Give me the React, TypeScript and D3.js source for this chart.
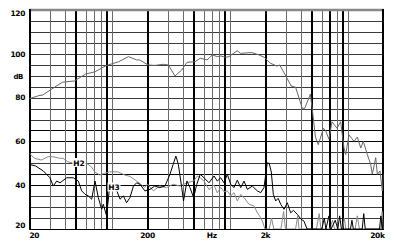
import React from "react";
import * as d3 from "d3";

// ---- data ----
const MAIN_F = [20, 24, 26, 30, 38, 48, 60, 72, 89, 113, 138, 162, 172, 202, 230, 272, 300, 342, 390, 432, 506, 560, 605, 640, 710, 780, 835, 920, 980, 1150, 1230, 1450, 1540, 1760, 1950, 2200, 2500, 2640, 3000, 3300, 3600, 4100, 4300, 4800, 5000, 5300, 5600, 5870, 6200, 6470, 6900, 7320, 8070, 8670, 9250, 9560, 10200, 11260, 12000, 12830, 13500, 14580, 15580, 16080, 17180, 17740, 18680, 19540, 20000];
const MAIN_DB = [79.5, 80.9, 81.2, 83.5, 87, 87.6, 90.8, 91.8, 94.6, 96.3, 98.7, 97.2, 97.2, 94.9, 94.7, 95.2, 94.9, 89.9, 92.6, 96.1, 96.4, 98, 97.5, 97.2, 99.5, 98.7, 99, 98.4, 98.7, 101.4, 100.2, 100.5, 100.5, 99.5, 98.4, 95.7, 94.4, 94.9, 89.5, 85.3, 84.7, 75.1, 75.1, 81.6, 74, 62, 58.5, 62, 66, 64.8, 61, 69, 66, 69, 57, 54, 63, 60, 62, 57, 60, 54, 49.5, 45, 52.6, 45, 46.5, 37.4, 45];

const H2_F = [20, 22, 25.2, 28.6, 31.6, 36, 38.4, 42.3, 48, 55, 60.7, 67, 71.3, 78.6, 86.5, 95, 112, 128, 142, 157, 171, 189, 200, 224, 254, 290, 330, 377, 432, 492, 530, 560, 600, 664, 733, 781, 834, 890, 950, 1014, 1082, 1154, 1233, 1316, 1450, 1598, 1706, 1822, 1880, 1980, 2150, 2250, 2350, 2700, 2850, 2950, 3600, 3750, 3850, 5400, 5700, 5900, 7000, 7400, 7700, 9000, 9300, 9600, 11500, 12000, 12500, 19000, 19500, 20000];
const H2_DB = [54.6, 52.3, 51.5, 53, 53, 52.3, 52.3, 50.7, 50, 50, 50, 48.4, 46.1, 44.7, 45.4, 46.1, 46.1, 44.7, 44, 42.4, 40.9, 39, 40.5, 37.4, 39.6, 38.9, 40.4, 39.6, 41.1, 41.9, 44.2, 43.4, 42, 38, 40, 36.5, 39, 37, 37.4, 35.1, 36.6, 32.8, 35.8, 34.3, 31.3, 30.5, 27.4, 25.2, 23.6, 20, 20, 25, 20, 20, 28, 20, 20, 26, 20, 20, 27, 20, 20, 24, 20, 20, 25, 20, 20, 26, 20, 20, 28, 20];

const H3_F = [20, 22.5, 26.2, 29.8, 31.8, 34, 36.3, 41.3, 47, 51.8, 55.4, 59, 63, 67.3, 71.8, 76.6, 81.8, 84.4, 90, 96, 103, 110, 117, 125, 133, 142, 152, 162, 173, 190, 210, 230, 255, 281, 310, 330, 348, 365, 390, 404, 432, 458, 492, 523, 560, 602, 664, 733, 781, 834, 890, 950, 1014, 1082, 1154, 1233, 1316, 1403, 1547, 1706, 1822, 1942, 2070, 2150, 2240, 2330, 2440, 2560, 2690, 2870, 3060, 3270, 3450, 3720, 4000, 4240, 4500, 6000, 6300, 6500, 6900, 7200, 7800, 8200, 8500, 8800, 10500, 10800, 11100, 13200, 13600, 14000, 18500, 19000, 19500];
const H3_DB = [49.5, 48.8, 46.5, 43.4, 39.6, 41.9, 41.1, 43.4, 43.4, 41.9, 37.4, 35.9, 35.1, 33.6, 41.9, 34.3, 29, 31.3, 26, 40.4, 38.1, 37.4, 33.6, 35.1, 32, 34.3, 39.6, 41.1, 40.4, 37.4, 38.1, 39.6, 38.9, 39.6, 45, 49.5, 53.3, 49.5, 38.9, 32.8, 41.9, 38.9, 34.3, 40.4, 45, 43.4, 41.1, 44.2, 41.9, 43.4, 41.1, 45, 40.4, 38.9, 42.3, 38.9, 41.9, 38.1, 39.6, 37.4, 36.6, 38.9, 50.2, 50, 46, 35.8, 32.8, 34, 31.3, 29, 32, 27.4, 28.5, 26.7, 24.5, 23.6, 20, 20, 25, 20, 26, 20, 24, 20, 26, 20, 20, 24, 20, 20, 27, 20, 20, 26, 20];

const THIN_F = [30, 40, 60, 70, 80, 100, 300, 400, 600, 700, 800, 1000, 3000, 4000, 6000, 8000, 10000];
const THICK_F = [50, 90, 200, 500, 900, 2000, 5000, 7000, 9000];
const H_LINES = [25, 30, 35, 40, 45, 50, 55, 60, 65, 70, 75, 80, 85, 90, 95, 100, 105, 110, 115];
const H_THICK = [40, 45, 60, 65];
const Y_LABELS = ["120", "100", "80", "60", "40", "20"];
const Y_LABEL_VALUES = [120, 100, 80, 60, 40, 20];
const X_LABELS = ["20", "200", "Hz", "2k", "20k"];
const X_LABEL_F = [20, 200, 700, 2000, 20000];

const W = 394;
const H = 242;

export default function App() {
  const x = d3.scaleLog().domain([20, 20000]).range([29.5, 383.5]);
  const y = d3.scaleLinear().domain([20, 120]).range([229, 10]);
  const line = d3
    .line<[number, number]>()
    .x((d) => x(d[0]))
    .y((d) => y(Math.max(20, d[1])));
  const mk = (f: number[], v: number[]) => line(f.map((ff, i) => [ff, v[i]] as [number, number])) || "";
  const font = "'DejaVu Sans', Verdana, sans-serif";
  const fs = 7.5;
  const anchors = ["start", "middle", "middle", "middle", "end"];
  return (
    <svg width={W} height={H} style={{ position: "absolute", left: 0, top: 0, background: "#fff" }}>
      <defs>
        <clipPath id="plot">
          <rect x={29.5} y={10} width={354} height={219} />
        </clipPath>
      </defs>
      <rect x={0} y={0} width={W} height={H} fill="#fff" />
      {H_LINES.map((v) => (
        <line
          key={"h" + v}
          x1={29.5}
          x2={383.5}
          y1={Math.round(y(v)) + 0.5}
          y2={Math.round(y(v)) + 0.5}
          stroke={H_THICK.includes(v) ? "#000" : "#3a3a3a"}
          strokeWidth={H_THICK.includes(v) ? 1.2 : 1}
        />
      ))}
      {THIN_F.map((f) => (
        <line key={"t" + f} x1={Math.round(x(f)) + 0.5} x2={Math.round(x(f)) + 0.5} y1={10} y2={229} stroke="#6a6a6a" strokeWidth={1} />
      ))}
      {THICK_F.map((f) => (
        <line key={"k" + f} x1={Math.round(x(f))} x2={Math.round(x(f))} y1={10} y2={229} stroke="#000" strokeWidth={2} />
      ))}
      <line x1={29.5} x2={383.5} y1={10} y2={10} stroke="#888" strokeWidth={2.5} />
      <line x1={29} x2={384} y1={229.5} y2={229.5} stroke="#000" strokeWidth={1} />
      <line x1={30} x2={30} y1={9} y2={230} stroke="#000" strokeWidth={2} />
      <line x1={383} x2={383} y1={9} y2={230} stroke="#000" strokeWidth={2} />
      <g clipPath="url(#plot)" fill="none">
        <path d={mk(MAIN_F, MAIN_DB)} stroke="#666" strokeWidth={1} />
        <path d={mk(H2_F, H2_DB)} stroke="#8a8a8a" strokeWidth={1} />
        <path d={mk(H3_F, H3_DB)} stroke="#000" strokeWidth={1} />
      </g>
      <rect x={72.5} y={158} width={13} height={9} fill="#fff" />
      <text x={79} y={165.8} textAnchor="middle" fontFamily={font} fontWeight="bold" fontSize={fs}>H2</text>
      <rect x={107.5} y={182.5} width={13} height={9} fill="#fff" />
      <text x={114} y={190.3} textAnchor="middle" fontFamily={font} fontWeight="bold" fontSize={fs}>H3</text>
      {Y_LABELS.map((t, i) => {
        const cy = Math.min(225, Math.max(13.5, y(Y_LABEL_VALUES[i])));
        return (
          <text key={"y" + t} x={25} y={cy + 2.8} textAnchor="end" fontFamily={font} fontWeight="bold" fontSize={fs} letterSpacing={-0.4}>
            {t}
          </text>
        );
      })}
      <text x={23} y={y(90) + 2.8} textAnchor="end" fontFamily={font} fontWeight="bold" fontSize={7} letterSpacing={-0.4}>dB</text>
      {X_LABELS.map((t, i) => (
        <text key={"x" + t} x={i === 0 ? 29.5 : i === 4 ? 384.5 : x(X_LABEL_F[i])} y={238} textAnchor={anchors[i]} fontFamily={font} fontWeight="bold" fontSize={fs} letterSpacing={-0.4}>
          {t}
        </text>
      ))}
    </svg>
  );
}
